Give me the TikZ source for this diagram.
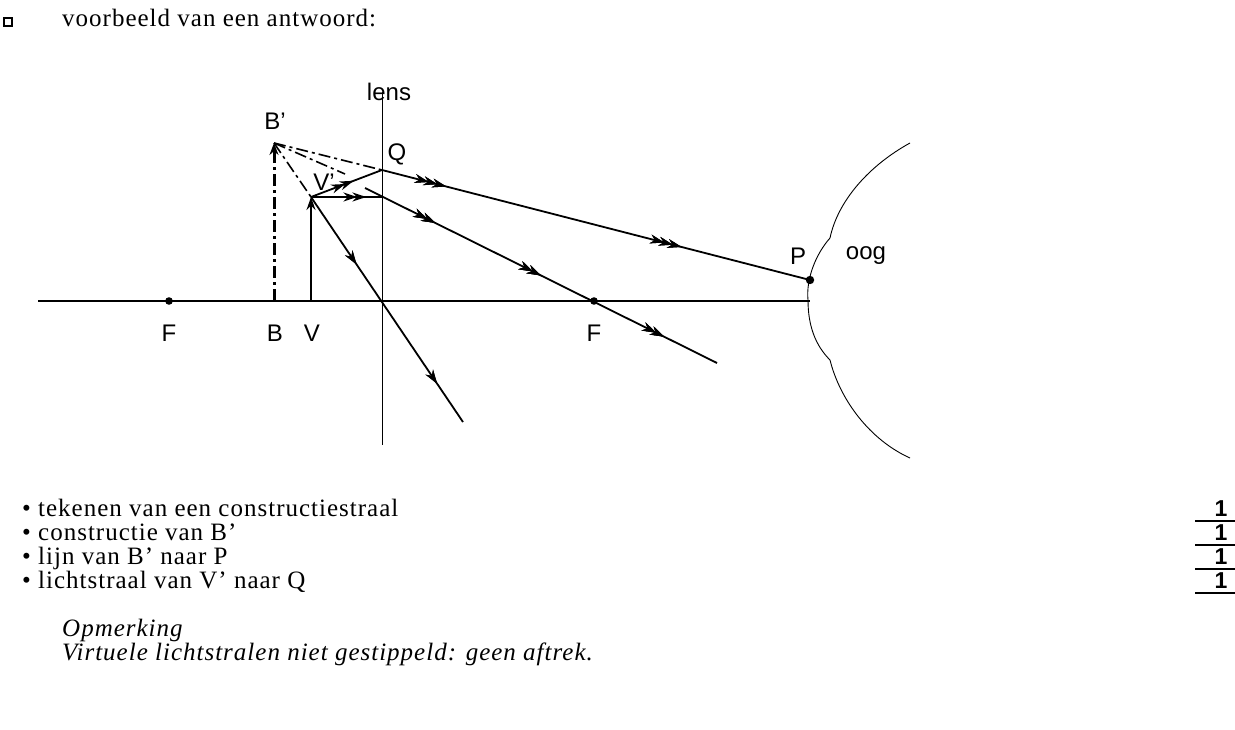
\documentclass[tikz,border=0pt]{standalone}
\usepackage{fontspec}
\setmainfont{Liberation Serif}[LetterSpace=4]
\setsansfont{Liberation Sans}
\usetikzlibrary{decorations.markings,arrows.meta}
\begin{document}
\begin{tikzpicture}[x=1pt,y=-1pt,
  ray/.style={line width=1.8pt},
  thin/.style={line width=0.9pt},
  dd/.style={line width=1.6pt,dash pattern=on 12pt off 4pt on 3pt off 4pt},
  ar/.style={decoration={markings,mark=at position #1 with {\arrow{Stealth[length=14pt,width=9pt]}}},postaction=decorate},
  ar2/.style={decoration={markings,mark=at position #1 with {\arrow{Stealth[length=14pt,width=9pt]}\arrow[xshift=-9pt]{Stealth[length=14pt,width=9pt]}}},postaction=decorate},
  ar3/.style={decoration={markings,mark=at position #1 with {\arrow{Stealth[length=14pt,width=9pt]}\arrow[xshift=-9pt]{Stealth[length=14pt,width=9pt]}\arrow[xshift=-18pt]{Stealth[length=14pt,width=9pt]}}},postaction=decorate},
  lab/.style={font=\sffamily\fontsize{24}{24}\selectfont,inner sep=0pt},
  txt/.style={font=\fontsize{25}{28}\selectfont,inner sep=0pt,anchor=base west},
  itx/.style={txt,font=\itshape\fontsize{25}{28}\selectfont}]
\useasboundingbox (0,0) rectangle (1235,730);
% header
\node[draw,line width=1.5pt,minimum size=8pt,inner sep=0pt] (box) at (8,22) {};
\node[txt] (h) at (62,27) {voorbeeld van een antwoord:};
% axis and lens
\coordinate (a1) at (38,301); \coordinate (a2) at (810,301);
\draw[ray] (a1) -- (a2);
\coordinate (l1) at (382,92); \coordinate (l2) at (382,445);
\draw[thin] (l1) -- (l2);
\node[lab] (lens) at (389,92) {lens};
% points
\coordinate (F1) at (169,301); \coordinate (F2) at (594,301);
\coordinate (B) at (274,301); \coordinate (Bp) at (274,143);
\coordinate (V) at (311,301); \coordinate (Vp) at (311,197);
\coordinate (Q) at (382,170); \coordinate (C) at (382,301);
\coordinate (H) at (382,197); \coordinate (P) at (810,280);
\fill (F1) circle (3.8pt); \fill (F2) circle (3.8pt); \fill (P) circle (4.2pt);
\node[lab] (lF1) at (169,333) {F};
\node[lab] (lF2) at (594,333) {F};
\node[lab] (lB) at (275,333) {B};
\node[lab] (lV) at (312,333) {V};
\node[lab] (lBp) at (275,121) {B'};
\node[lab] (lVp) at (324,182) {V'};
\node[lab] (lQ) at (397,154) {Q};
\node[lab] (lP) at (798,256) {P};
\node[lab] (loog) at (866,256) {oog};
% object and image
\draw[thin,line width=1.4pt,-{Stealth[length=13pt,width=9pt]}] (V) -- (Vp);
\draw[dd,line width=3pt,-{Stealth[length=12pt,width=9pt]}] (B) -- (Bp);
% virtual rays
\draw[dd] (Bp) -- (Q);
\draw[dd] (Bp) -- (Vp);
\draw[dd] (Bp) -- (345,174);
% real rays
\draw[ray,ar2=0.6] (Vp) -- (Q);
\draw[ray,ar2=0.78] (Vp) -- (H);
\coordinate (R1) at (365,188); \coordinate (R2) at (717,363);
\draw[ray,ar2=0.2,ar2=0.5,ar2=0.85] (R1) -- (R2);
\coordinate (E1) at (463,422);
\draw[ray,ar=0.3,ar=0.83] (Vp) -- (E1);
\draw[ray,ar3=0.15,ar3=0.7] (Q) -- (P);
% eye
\draw[thin] (910,143) .. controls (870,165) and (838,200) .. (830,238)
  .. controls (815,255) and (806,280) .. (808,300)
  .. controls (808,325) and (815,345) .. (830,360)
  .. controls (840,400) and (870,440) .. (910,458);
% list
\node[txt] (t1) at (22,516) {• tekenen van een constructiestraal};
\node[txt] (t2) at (22,540) {• constructie van B’};
\node[txt] (t3) at (22,564) {• lijn van B’ naar P};
\node[txt] (t4) at (22,588) {• lichtstraal van V’ naar Q};
\foreach \y/\n in {516/s1,540/s2,564/s3,588/s4}{
  \node[font=\sffamily\bfseries\fontsize{23}{23}\selectfont,anchor=base,inner sep=0pt] (\n) at (1221,\y) {1};
  \draw[line width=1.4pt] (1195,\y+5) -- (1235,\y+5);
}
\node[itx] (o1) at (62,636) {Opmerking};
\node[itx] (o2) at (62,660) {Virtuele lichtstralen niet gestippeld: geen aftrek.};
\end{tikzpicture}
\end{document}
